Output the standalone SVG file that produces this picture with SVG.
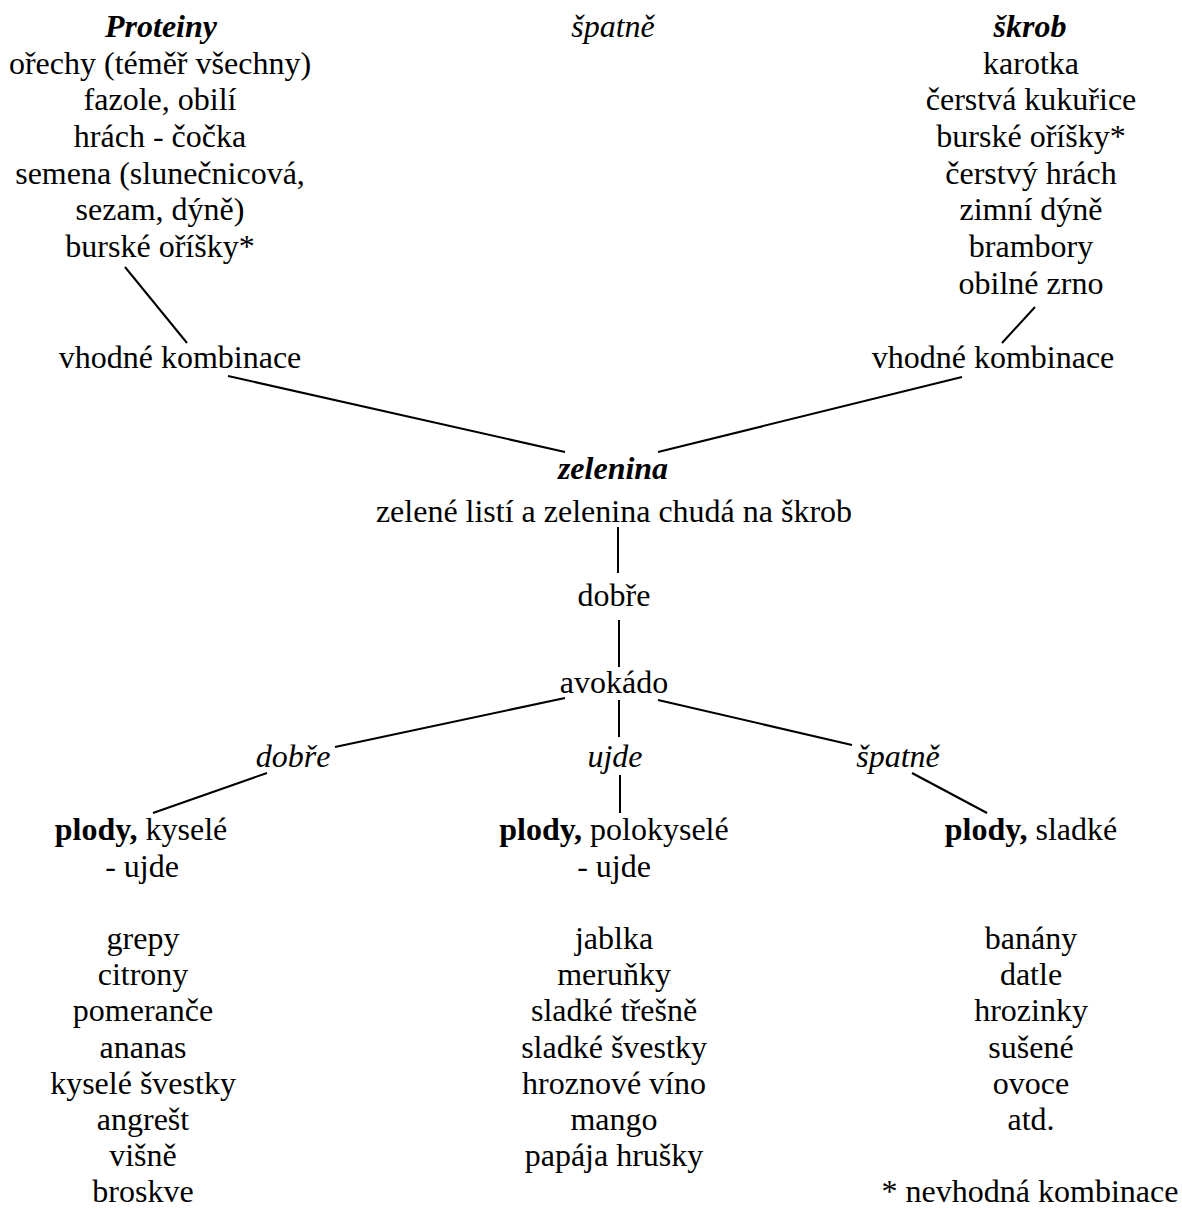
<svg xmlns="http://www.w3.org/2000/svg" width="1182" height="1209" viewBox="0 0 1182 1209">
<style>
text{font-family:"Liberation Serif","Times New Roman",serif;font-size:32px;fill:#000;text-anchor:middle}
.bi{font-weight:bold;font-style:italic}
.i{font-style:italic}
.b{font-weight:bold}
.c line{stroke:#000;stroke-width:2}
</style>
<rect width="1182" height="1209" fill="#fff"/>
<g class="c" id="connectors">
<line x1="125" y1="267" x2="187" y2="343"/>
<line x1="1035" y1="307" x2="1002" y2="343"/>
<line x1="228" y1="376" x2="565" y2="452"/>
<line x1="962" y1="377" x2="658" y2="452"/>
<line x1="618" y1="527" x2="618" y2="573"/>
<line x1="619" y1="620" x2="619" y2="667"/>
<line x1="565" y1="698" x2="335" y2="747"/>
<line x1="619" y1="700" x2="619" y2="737"/>
<line x1="658" y1="700" x2="852" y2="745"/>
<line x1="267" y1="773" x2="153" y2="813"/>
<line x1="620" y1="775" x2="620" y2="813"/>
<line x1="912" y1="773" x2="987" y2="813"/>
</g>
<g id="proteiny">
<text class="bi" x="161" y="37">Proteiny</text>
<text x="160" y="74">ořechy (téměř všechny)</text>
<text x="160" y="110">fazole, obilí</text>
<text x="160" y="147">hrách - čočka</text>
<text x="160" y="184">semena (slunečnicová,</text>
<text x="160" y="220">sezam, dýně)</text>
<text x="160" y="257">burské oříšky*</text>
</g>
<g id="spatne-top"><text class="i" x="613" y="37">špatně</text></g>
<g id="skrob">
<text class="bi" x="1030" y="37">škrob</text>
<text x="1031" y="74">karotka</text>
<text x="1031" y="110">čerstvá kukuřice</text>
<text x="1031" y="147">burské oříšky*</text>
<text x="1031" y="184">čerstvý hrách</text>
<text x="1031" y="220">zimní dýně</text>
<text x="1031" y="257">brambory</text>
<text x="1031" y="294">obilné zrno</text>
</g>
<g id="vhodne-left"><text x="180" y="368">vhodné kombinace</text></g>
<g id="vhodne-right"><text x="993" y="368">vhodné kombinace</text></g>
<g id="zelenina">
<text class="bi" x="613" y="479">zelenina</text>
<text x="614" y="522">zelené listí a zelenina chudá na škrob</text>
</g>
<g id="dobre-mid"><text x="614" y="606">dobře</text></g>
<g id="avokado"><text x="614" y="693">avokádo</text></g>
<g id="dobre-left"><text class="i" x="293" y="767">dobře</text></g>
<g id="ujde-mid"><text class="i" x="615" y="767">ujde</text></g>
<g id="spatne-right"><text class="i" x="898" y="767">špatně</text></g>
<g id="plody-kysele">
<text x="141" y="840"><tspan class="b">plody,</tspan> kyselé</text>
<text x="142" y="877">- ujde</text>
<text x="143" y="949">grepy</text>
<text x="143" y="985">citrony</text>
<text x="143" y="1021">pomeranče</text>
<text x="143" y="1058">ananas</text>
<text x="143" y="1094">kyselé švestky</text>
<text x="143" y="1130">angrešt</text>
<text x="143" y="1166">višně</text>
<text x="143" y="1202">broskve</text>
</g>
<g id="plody-polokysele">
<text x="614" y="840"><tspan class="b">plody,</tspan> polokyselé</text>
<text x="614" y="877">- ujde</text>
<text x="614" y="949">jablka</text>
<text x="614" y="985">meruňky</text>
<text x="614" y="1021">sladké třešně</text>
<text x="614" y="1058">sladké švestky</text>
<text x="614" y="1094">hroznové víno</text>
<text x="614" y="1130">mango</text>
<text x="614" y="1166">papája hrušky</text>
</g>
<g id="plody-sladke">
<text x="1031" y="840"><tspan class="b">plody,</tspan> sladké</text>
<text x="1031" y="949">banány</text>
<text x="1031" y="985">datle</text>
<text x="1031" y="1021">hrozinky</text>
<text x="1031" y="1058">sušené</text>
<text x="1031" y="1094">ovoce</text>
<text x="1031" y="1130">atd.</text>
<text x="1030" y="1202">* nevhodná kombinace</text>
</g>
</svg>
